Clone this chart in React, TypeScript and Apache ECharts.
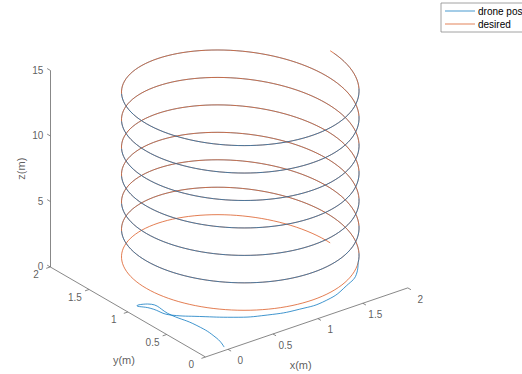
import React, { useEffect, useRef } from 'react';
import * as echarts from 'echarts';

// ---- axis limits and ticks ----
const xLim = [-0.25, 2];
const yLim = [0, 2];
const zLim = [0, 15];
const xTicks = [0, 0.5, 1, 1.5, 2];
const yTicks = [0, 0.5, 1, 1.5, 2];
const zTicks = [0, 5, 10, 15];
const xTickLabels = ['0', '0.5', '1', '1.5', '2'];
const yTickLabels = ['0', '0.5', '1', '1.5', '2'];
const zTickLabels = ['0', '5', '10', '15'];
const axisNames = ['x(m)', 'y(m)', 'z(m)'];
const seriesNames = ['drone pos', 'desired'];

// ---- desired helix ----
const helixCenter = [1, 1];
const helixRadius = 1;
const helixZPerRad = 1 / 3;
const helixTurns = 7;

// ---- drone position: initial transient waypoints [x, y, z] ----
const droneTransient = [
  [0.0, 0.05, 0.0],
  [0.05, 0.2, 0.03],
  [0.06, 0.47, 0.06],
  [0.0, 0.73, 0.1],
  [-0.04, 0.99, 0.15],
  [-0.14, 1.01, 0.18],
  [-0.08, 0.91, 0.2],
  [-0.02, 0.7, 0.25],
  [0.15, 0.54, 0.3],
  [0.36, 0.35, 0.4],
  [0.61, 0.2, 0.5],
  [0.88, 0.1, 0.65],
  [1.15, 0.06, 0.85],
  [1.41, 0.11, 1.15],
  [1.6, 0.19, 1.5],
];
const droneJoinT = 5.45; // helix parameter where the drone meets the desired path

// ---- view / layout ----
const AZ = (-37.5 * Math.PI) / 180;
const EL = (30 * Math.PI) / 180;
const PX_U = 255;
const PX_V = 227;
const ORIGIN = [205.5, 357];
const U_RANGE = [-0.8, 1.2];
const V_RANGE = [-0.07, 1.55];
const BLUE = '#0072BD';
const ORANGE = '#D95319';
const FONT = 'Liberation Sans, Arial, Helvetica, sans-serif';

function projN(X: number, Y: number, Z: number): number[] {
  return [
    Math.cos(AZ) * X + Math.sin(AZ) * Y,
    -Math.sin(EL) * Math.sin(AZ) * X + Math.sin(EL) * Math.cos(AZ) * Y + Math.cos(EL) * Z,
  ];
}
function norm(p: number[]): number[] {
  return [
    (p[0] - xLim[0]) / (xLim[1] - xLim[0]),
    (p[1] - yLim[0]) / (yLim[1] - yLim[0]),
    (p[2] - zLim[0]) / (zLim[1] - zLim[0]),
  ];
}
function proj(p: number[]): number[] {
  const n = norm(p);
  return projN(n[0], n[1], n[2]);
}
function helixPoint(t: number): number[] {
  return [
    helixCenter[0] + helixRadius * Math.cos(t),
    helixCenter[1] + helixRadius * Math.sin(t),
    helixZPerRad * t,
  ];
}
function isFront(t: number): boolean {
  const A = helixRadius / (xLim[1] - xLim[0]);
  const B = helixRadius / (yLim[1] - yLim[0]);
  return (Math.sin(AZ) * Math.cos(t)) / A - (Math.cos(AZ) * Math.sin(t)) / B > 0;
}
function splitArcs(t0: number, t1: number, step: number) {
  const front: number[][][] = [];
  const back: number[][][] = [];
  let cur: number[][] = [];
  let curFront: boolean | null = null;
  for (let t = t0; t <= t1 + 1e-9; t += step) {
    const f = isFront(t);
    const p = proj(helixPoint(t));
    if (curFront === null) {
      curFront = f;
      cur = [p];
    } else if (f === curFront) {
      cur.push(p);
    } else {
      cur.push(p);
      (curFront ? front : back).push(cur);
      cur = [p];
      curFront = f;
    }
  }
  if (cur.length > 1) (curFront ? front : back).push(cur);
  return { front, back };
}

export default function App() {
  const ref = useRef<HTMLDivElement>(null);
  useEffect(() => {
    if (!ref.current) return;
    const chart = echarts.init(ref.current, null, { renderer: 'svg' });
    const tEnd = 2 * Math.PI * helixTurns;
    const step = (2 * Math.PI) / 120;
    const desired: number[][] = [];
    for (let t = 0; t <= tEnd + 1e-9; t += step) desired.push(proj(helixPoint(t)));
    const drone = splitArcs(droneJoinT, tEnd, step);
    const transient = droneTransient.map((p) => proj(p));
    transient.push(proj(helixPoint(droneJoinT)));

    // box axes and ticks
    const TL = 0.02;
    const boxSegs: number[][][] = [
      [projN(0, 1, 0), projN(0, 1, 1)],
      [projN(0, 0, 0), projN(0, 1, 0)],
      [projN(0, 0, 0), projN(1, 0, 0)],
    ];
    xTicks.forEach((x) => {
      const X = norm([x, 0, 0])[0];
      boxSegs.push([projN(X, 0, 0), projN(X, -TL, 0)]);
    });
    yTicks.forEach((y) => {
      const Y = norm([0, y, 0])[1];
      boxSegs.push([projN(0, Y, 0), projN(-TL, Y, 0)]);
    });
    zTicks.forEach((z) => {
      const Z = norm([0, 0, z])[2];
      boxSegs.push([projN(0, 1, Z), projN(0, 1 + TL, Z)]);
    });

    const xLab = xTicks.map((x, i) => ({ name: xTickLabels[i], value: projN(norm([x, 0, 0])[0], -0.08, 0) }));
    const yLab = yTicks.map((y, i) => ({ name: yTickLabels[i], value: projN(-0.07, norm([0, y, 0])[1], 0) }));
    const zLab = zTicks.map((z, i) => ({ name: zTickLabels[i], value: projN(0, 1, norm([0, 0, z])[2]) }));

    const labelBase = { show: true, color: '#333', fontFamily: FONT, fontSize: 10, formatter: '{b}' };
    const textSeries = (data: any[], label: any) => ({
      type: 'scatter',
      symbolSize: 0,
      silent: true,
      clip: false,
      z: 6,
      data,
      label: { ...labelBase, ...label },
    });

    chart.setOption({
      animation: false,
      backgroundColor: '#fff',
      grid: {
        left: ORIGIN[0] + U_RANGE[0] * PX_U,
        width: (U_RANGE[1] - U_RANGE[0]) * PX_U,
        top: ORIGIN[1] - V_RANGE[1] * PX_V,
        height: (V_RANGE[1] - V_RANGE[0]) * PX_V,
      },
      xAxis: { type: 'value', min: U_RANGE[0], max: U_RANGE[1], show: false },
      yAxis: { type: 'value', min: V_RANGE[0], max: V_RANGE[1], show: false },
      legend: {
        data: [
          { name: seriesNames[0], icon: 'rect', itemStyle: { color: BLUE, opacity: 0.72 } },
          { name: seriesNames[1], icon: 'rect', itemStyle: { color: ORANGE, opacity: 0.72 } },
        ],
        orient: 'vertical',
        left: 441,
        top: 3,
        itemWidth: 30,
        itemHeight: 1,
        itemGap: 3,
        padding: [3, 40, 3, 4],
        borderColor: '#8a8a8a',
        borderWidth: 0.8,
        selectedMode: false,
        textStyle: { fontFamily: FONT, fontSize: 10, color: '#000', padding: [0, 0, 0, -2] },
      },
      series: [
        {
          type: 'lines',
          coordinateSystem: 'cartesian2d',
          silent: true,
          z: 1,
          data: boxSegs.map((c) => ({ coords: c })),
          lineStyle: { color: '#6a6a6a', width: 0.8, opacity: 1 },
        },
        {
          name: seriesNames[0],
          type: 'line',
          symbol: 'none',
          smooth: 0.5,
          silent: true,
          clip: false,
          z: 5,
          data: transient,
          lineStyle: { color: BLUE, width: 1, opacity: 0.75 },
          itemStyle: { color: BLUE },
        },
        {
          name: seriesNames[0],
          type: 'lines',
          coordinateSystem: 'cartesian2d',
          polyline: true,
          silent: true,
          z: 2,
          data: drone.back.map((c) => ({ coords: c })),
          lineStyle: { color: BLUE, width: 1, opacity: 0.5 },
        },
        {
          name: seriesNames[1],
          type: 'line',
          symbol: 'none',
          silent: true,
          z: 3,
          data: desired,
          lineStyle: { color: ORANGE, width: 1, opacity: 0.75 },
          itemStyle: { color: ORANGE },
        },
        {
          name: seriesNames[0],
          type: 'lines',
          coordinateSystem: 'cartesian2d',
          polyline: true,
          silent: true,
          z: 4,
          data: drone.front.map((c) => ({ coords: c })),
          lineStyle: { color: BLUE, width: 1, opacity: 0.68 },
        },
        textSeries(xLab, { position: 'inside', offset: [0, 4] }),
        textSeries(yLab, { position: 'inside', offset: [0, 3] }),
        textSeries(zLab, { position: 'left', distance: 7 }),
        textSeries([{ name: axisNames[0], value: projN(0.5, 0, 0) }], { position: 'inside', offset: [-6, 43], fontSize: 11 }),
        textSeries([{ name: axisNames[1], value: projN(0, 0.5, 0) }], { position: 'inside', offset: [-4, 48], fontSize: 11 }),
        textSeries([{ name: axisNames[2], value: projN(0, 1, 0.5) }], { position: 'inside', offset: [0, -29], fontSize: 11, rotate: 90 }),
      ],
    });
    return () => chart.dispose();
  }, []);
  return <div ref={ref} style={{ position: 'fixed', left: 0, top: 0, width: 522, height: 374 }} />;
}
